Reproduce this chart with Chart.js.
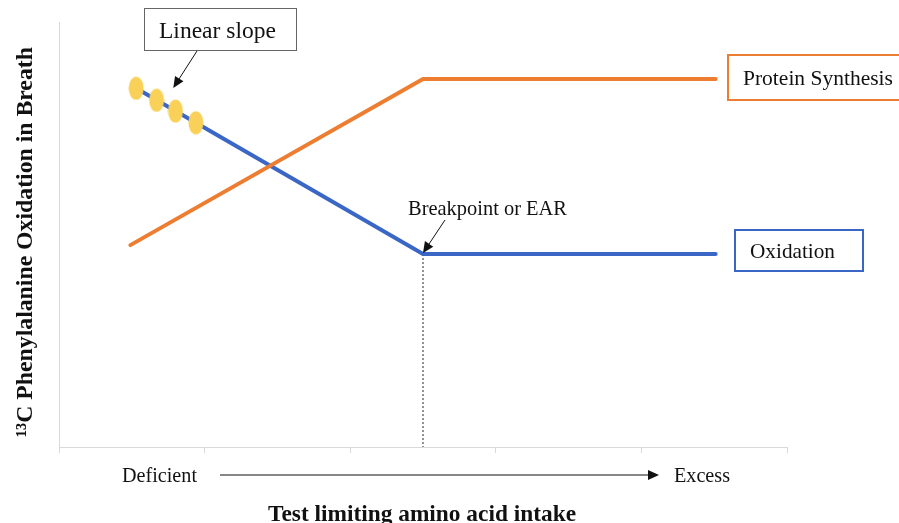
<!DOCTYPE html>
<html>
<head>
<meta charset="utf-8">
<script src="https://cdn.jsdelivr.net/npm/chart.js@4/dist/chart.umd.min.js"></script>
<style>
  html, body { margin: 0; padding: 0; background: #fff; }
  #wrap { width: 899px; height: 523px; position: relative; }
</style>
</head>
<body>
<div id="wrap"><canvas id="c" width="899" height="523"></canvas></div>
<script>
// ---- data ----
const xTicks = [0, 1, 2, 3, 4, 5];
const proteinX = [0.49, 2.5, 4.51];
const proteinY = [47.5, 86.6, 86.6];
const oxidationX = [0.53, 2.5, 4.51];
const oxidationY = [84.4, 45.4, 45.4];
const slopeX = [0.53, 0.67, 0.80, 0.94];
const slopeY = [84.4, 81.6, 79.05, 76.3];
const breakX = [2.5, 2.5];
const breakY = [45.4, 0];

const xTitle = 'Test limiting amino acid intake';
const yTitle = '\u00B9\u00B3C Phenylalanine Oxidation in Breath';
const lowLabel = 'Deficient';
const highLabel = 'Excess';
const slopeLabel = 'Linear slope';
const breakLabel = 'Breakpoint or EAR';
const proteinLabel = 'Protein Synthesis';
const oxidationLabel = 'Oxidation';

const ORANGE = '#ED7D31';
const BLUE = '#3A66C6';
const YELLOW = '#F9D159';
const SERIF = '"Liberation Serif", "Times New Roman", serif';

function pts(xs, ys) { return xs.map((x, i) => ({ x: x, y: ys[i] })); }

function ellipseImg() {
  const c = document.createElement('canvas');
  c.width = 16; c.height = 24;
  const g = c.getContext('2d');
  g.fillStyle = YELLOW;
  g.beginPath();
  g.ellipse(8, 12, 7.5, 11.5, 0, 0, Math.PI * 2);
  g.fill();
  return c;
}

function arrow(ctx, x1, y1, x2, y2, head, width) {
  const a = Math.atan2(y2 - y1, x2 - x1);
  ctx.beginPath();
  ctx.moveTo(x1, y1);
  ctx.lineTo(x2 - Math.cos(a) * head * 0.8, y2 - Math.sin(a) * head * 0.8);
  ctx.stroke();
  ctx.beginPath();
  ctx.moveTo(x2, y2);
  ctx.lineTo(x2 - head * Math.cos(a) + width * Math.sin(a), y2 - head * Math.sin(a) - width * Math.cos(a));
  ctx.lineTo(x2 - head * Math.cos(a) - width * Math.sin(a), y2 - head * Math.sin(a) + width * Math.cos(a));
  ctx.closePath();
  ctx.fill();
}

// set a font so that the text spans the given width
function fitFont(ctx, text, width, weight) {
  const w = weight ? weight + ' ' : '';
  ctx.font = w + '20px ' + SERIF;
  const m = ctx.measureText(text).width;
  const size = 20 * width / m;
  ctx.font = w + size.toFixed(2) + 'px ' + SERIF;
}

function label(ctx, text, left, baseline, width, weight) {
  fitFont(ctx, text, width, weight);
  ctx.textAlign = 'left';
  ctx.textBaseline = 'alphabetic';
  ctx.fillText(text, left, baseline);
}

const annotations = {
  id: 'annotations',
  afterDraw(chart) {
    const ctx = chart.ctx;
    const xs = chart.scales.x, ys = chart.scales.y;
    const px = v => xs.getPixelForValue(v);
    const py = v => ys.getPixelForValue(v);
    ctx.save();

    // Linear slope box + arrow
    ctx.fillStyle = '#fff';
    ctx.strokeStyle = '#666';
    ctx.lineWidth = 1;
    ctx.fillRect(144.5, 8.5, 152, 42);
    ctx.strokeRect(144.5, 8.5, 152, 42);
    ctx.fillStyle = '#111';
    label(ctx, slopeLabel, 159, 38, 117);
    ctx.strokeStyle = '#111';
    arrow(ctx, 197, 51, px(0.785), py(84.5), 11, 5);

    // Breakpoint label + arrow
    label(ctx, breakLabel, 408, 215, 159);
    arrow(ctx, 445, 220, px(breakX[0]), py(breakY[0]) - 1, 11, 5);

    // Protein Synthesis box
    ctx.lineWidth = 2;
    ctx.strokeStyle = ORANGE;
    ctx.strokeRect(728, 55, 180, 45);
    label(ctx, proteinLabel, 743, 85, 150);

    // Oxidation box
    ctx.strokeStyle = BLUE;
    ctx.strokeRect(735, 230, 128, 41);
    label(ctx, oxidationLabel, 750, 258, 85);

    // Deficient -> Excess
    label(ctx, lowLabel, 122, 482, 75);
    label(ctx, highLabel, 674, 482, 56);
    ctx.lineWidth = 1;
    ctx.strokeStyle = '#111';
    arrow(ctx, 220, 475, 659, 475, 11, 5);

    // X title
    label(ctx, xTitle, 268, 521, 308, 'bold');

    // Y title
    ctx.save();
    ctx.translate(32, 437);
    ctx.rotate(-Math.PI / 2);
    label(ctx, yTitle, 0, 0, 390, 'bold');
    ctx.restore();

    ctx.restore();
  }
};

new Chart(document.getElementById('c'), {
  type: 'line',
  data: {
    datasets: [
      { data: pts(slopeX, slopeY), showLine: false, pointStyle: ellipseImg(), pointRadius: 8, order: 0 },
      { data: pts(proteinX, proteinY), borderColor: ORANGE, borderWidth: 4, pointRadius: 0,
        borderCapStyle: 'round', borderJoinStyle: 'miter', order: 1 },
      { data: pts(oxidationX, oxidationY), borderColor: BLUE, borderWidth: 4, pointRadius: 0,
        borderCapStyle: 'round', borderJoinStyle: 'miter', order: 2 },
      { data: pts(breakX, breakY), borderColor: '#222', borderWidth: 1, borderDash: [2, 2],
        pointRadius: 0, order: 3 }
    ]
  },
  options: {
    responsive: false,
    animation: false,
    layout: { padding: { top: 22, right: 112, left: 0, bottom: 0 } },
    plugins: { legend: { display: false }, tooltip: { enabled: false } },
    scales: {
      x: {
        type: 'linear', min: xTicks[0], max: xTicks[xTicks.length - 1],
        afterBuildTicks: s => { s.ticks = xTicks.map(v => ({ value: v })); },
        afterFit: s => { s.height = 76; },
        ticks: { display: false },
        grid: { display: true, drawOnChartArea: false, drawTicks: true, tickLength: 6, color: '#d9d9d9' },
        border: { display: true, color: '#d9d9d9', width: 1 }
      },
      y: {
        min: 0, max: 100,
        afterFit: s => { s.width = 59; },
        ticks: { display: false },
        grid: { display: false },
        border: { display: true, color: '#d9d9d9', width: 1 }
      }
    }
  },
  plugins: [annotations]
});
</script>
</body>
</html>
